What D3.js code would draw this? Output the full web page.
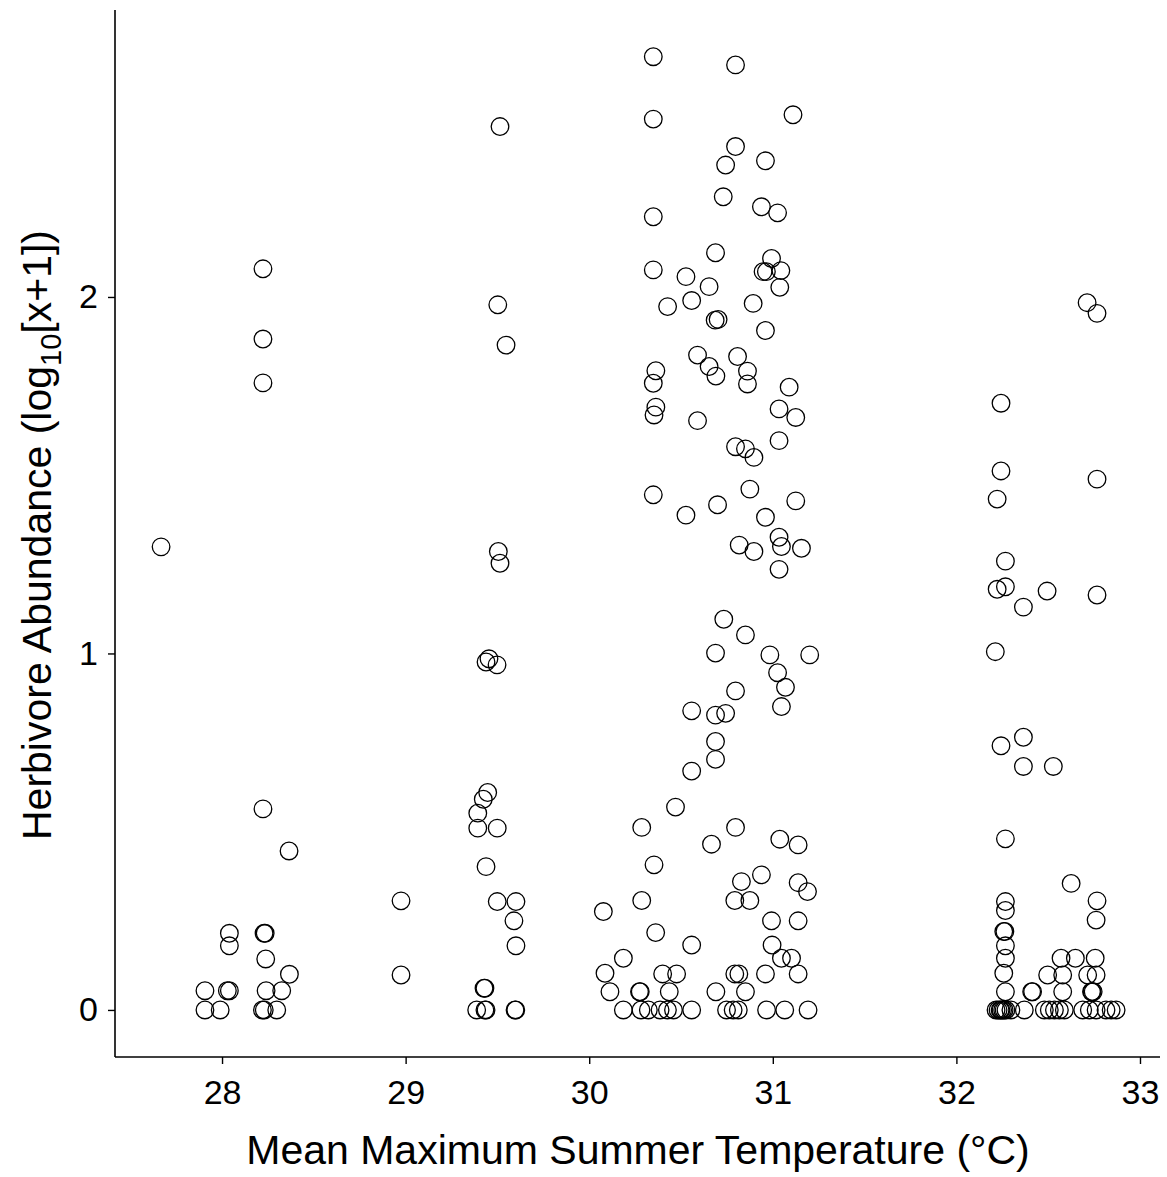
<!DOCTYPE html>
<html>
<head>
<meta charset="utf-8">
<script src="https://cdn.jsdelivr.net/npm/d3@7"></script>
<style>
  body { margin: 0; background: #fff; }
  svg text { font-family: "Liberation Sans", Arial, sans-serif; fill: #000; }
</style>
</head>
<body>
<svg id="chart" width="1167" height="1177"></svg>
<script>
// points as [temperature, log10 abundance], grouped by temperature band
const sites28 = [
  [27.668, 1.299], [28.223, 2.079], [28.223, 1.882], [28.223, 1.759], [28.223, 0.564],
  [28.365, 0.446], [28.04, 0.215], [28.04, 0.18], [28.229, 0.215], [28.235, 0.215],
  [28.238, 0.143], [28.367, 0.1], [27.907, 0.054], [28.029, 0.054], [28.04, 0.054],
  [28.24, 0.054], [28.325, 0.054], [27.907, 0], [27.99, 0], [28.22, 0], [28.23, 0], [28.298, 0]
];
const sites29 = [
  [28.975, 0.306], [28.975, 0.098], [29.514, 2.478], [29.502, 1.978], [29.547, 1.865],
  [29.505, 1.286], [29.514, 1.253], [29.438, 0.976], [29.454, 0.985], [29.498, 0.968],
  [29.447, 0.61], [29.423, 0.591], [29.393, 0.552], [29.393, 0.51], [29.499, 0.51],
  [29.438, 0.402], [29.499, 0.304], [29.601, 0.304], [29.59, 0.25], [29.601, 0.18],
  [29.427, 0.061], [29.432, 0.061], [29.387, 0], [29.432, 0], [29.438, 0], [29.596, 0], [29.6, 0]
];
const sites30 = [
  [30.349, 2.674], [30.797, 2.651], [30.349, 2.499], [31.11, 2.511], [30.797, 2.422],
  [30.743, 2.37], [30.96, 2.382], [30.349, 2.225], [30.73, 2.281], [30.938, 2.253],
  [31.026, 2.236], [30.688, 2.124], [30.349, 2.076], [30.527, 2.057], [30.653, 2.029],
  [30.427, 1.973], [30.558, 1.99], [30.893, 1.982], [30.686, 1.935], [30.702, 1.937],
  [30.96, 1.906], [30.993, 2.108], [30.947, 2.071], [30.965, 2.071], [31.044, 2.074],
  [31.038, 2.027], [30.59, 1.837], [30.653, 1.805], [30.69, 1.778], [30.808, 1.833],
  [30.862, 1.792], [30.862, 1.756], [30.363, 1.793], [30.349, 1.758], [30.363, 1.691],
  [30.353, 1.669], [31.089, 1.747], [31.034, 1.686], [31.125, 1.662], [30.59, 1.653],
  [31.034, 1.597], [30.797, 1.58], [30.851, 1.574], [30.897, 1.55], [30.349, 1.445],
  [30.527, 1.388], [30.699, 1.417], [30.875, 1.461], [30.96, 1.382], [31.125, 1.428],
  [30.817, 1.304], [30.897, 1.286], [31.034, 1.326], [31.047, 1.3], [31.156, 1.295],
  [31.034, 1.236], [30.733, 1.096], [30.851, 1.052], [30.688, 1.001], [30.984, 0.996],
  [31.201, 0.996], [31.026, 0.946], [31.069, 0.905], [31.047, 0.851], [30.797, 0.895],
  [30.558, 0.839], [30.688, 0.827], [30.743, 0.832], [30.688, 0.753], [30.688, 0.703],
  [30.558, 0.67], [30.47, 0.569], [30.286, 0.512], [30.797, 0.512], [30.666, 0.465],
  [31.038, 0.479], [31.138, 0.463], [30.353, 0.407], [30.938, 0.379], [30.829, 0.36],
  [31.138, 0.357], [31.189, 0.332], [30.793, 0.307], [30.875, 0.307], [30.286, 0.307],
  [30.077, 0.276], [30.993, 0.25], [31.138, 0.25], [30.362, 0.217], [30.558, 0.182],
  [30.996, 0.182], [30.186, 0.145], [31.047, 0.145], [31.102, 0.145], [30.086, 0.103],
  [30.4, 0.101], [30.476, 0.101], [30.793, 0.101], [30.815, 0.101], [30.96, 0.101],
  [31.138, 0.101], [30.113, 0.051], [30.274, 0.051], [30.278, 0.051], [30.436, 0.051],
  [30.69, 0.051], [30.851, 0.051], [30.186, 0], [30.282, 0], [30.322, 0], [30.386, 0],
  [30.426, 0], [30.459, 0], [30.558, 0], [30.748, 0], [30.784, 0], [30.812, 0],
  [30.966, 0], [31.065, 0], [31.192, 0]
];
const sites32 = [
  [32.712, 1.984], [32.766, 1.954], [32.243, 1.702], [32.243, 1.512], [32.222, 1.433],
  [32.766, 1.489], [32.267, 1.259], [32.222, 1.18], [32.267, 1.187], [32.494, 1.175],
  [32.365, 1.13], [32.766, 1.164], [32.212, 1.005], [32.243, 0.741], [32.365, 0.765],
  [32.365, 0.683], [32.528, 0.683], [32.267, 0.48], [32.267, 0.304], [32.267, 0.279],
  [32.625, 0.355], [32.766, 0.306], [32.761, 0.252], [32.258, 0.22], [32.264, 0.22],
  [32.267, 0.18], [32.267, 0.145], [32.57, 0.145], [32.648, 0.145], [32.756, 0.145],
  [32.258, 0.103], [32.497, 0.098], [32.579, 0.098], [32.715, 0.098], [32.761, 0.098],
  [32.267, 0.051], [32.41, 0.051], [32.415, 0.051], [32.579, 0.051], [32.736, 0.051],
  [32.739, 0.051], [32.745, 0.051], [32.216, 0], [32.227, 0], [32.238, 0], [32.243, 0],
  [32.252, 0], [32.26, 0], [32.27, 0], [32.297, 0], [32.37, 0], [32.479, 0], [32.506, 0],
  [32.534, 0], [32.561, 0], [32.588, 0], [32.688, 0], [32.724, 0], [32.761, 0],
  [32.815, 0], [32.843, 0], [32.87, 0]
];

const xTicks = [28, 29, 30, 31, 32, 33];
const yTicks = [0, 1, 2];
const xTitle = "Mean Maximum Summer Temperature (°C)";

const svg = d3.select("#chart");
const margin = { top: 10, right: 7, bottom: 120, left: 115 };
const width = 1167 - margin.left - margin.right;
const height = 1177 - margin.top - margin.bottom;

const x = d3.scaleLinear().domain([27.417, 33.109]).range([0, width]);
const y = d3.scaleLinear().domain([-0.132, 2.805]).range([height, 0]);

const g = svg.append("g").attr("transform", `translate(${margin.left},${margin.top})`);

const allPoints = sites28.concat(sites29, sites30, sites32);

g.selectAll("circle.pt")
  .data(allPoints)
  .join("circle")
  .attr("class", "pt")
  .attr("cx", d => x(d[0]))
  .attr("cy", d => y(d[1]))
  .attr("r", 8.8)
  .attr("fill", "none")
  .attr("stroke", "#000")
  .attr("stroke-width", 1.3);

// axes
const xAxis = g.append("g")
  .attr("transform", `translate(0,${height})`)
  .call(d3.axisBottom(x).tickValues(xTicks).tickSize(7).tickPadding(16).tickFormat(d3.format("d")));
const yAxis = g.append("g")
  .call(d3.axisLeft(y).tickValues(yTicks).tickSize(7).tickPadding(10).tickFormat(d3.format("d")));

[xAxis, yAxis].forEach(a => {
  a.select(".domain").attr("stroke", "#000").attr("stroke-width", 1.6).attr("d",
    a === xAxis ? `M0,0H${width}` : `M0,0V${height}`);
  a.selectAll(".tick line").attr("stroke", "#000").attr("stroke-width", 1.4);
  a.selectAll(".tick text").style("font-size", "34px").attr("fill", "#000");
});

// titles
svg.append("text")
  .attr("x", 638)
  .attr("y", 1164)
  .attr("text-anchor", "middle")
  .style("font-size", "41px")
  .text(xTitle);

const yLab = svg.append("text")
  .attr("transform", "translate(51,535) rotate(-90)")
  .attr("text-anchor", "middle")
  .style("font-size", "41px");
yLab.append("tspan").text("Herbivore Abundance (log");
yLab.append("tspan").attr("dy", 10).style("font-size", "29px").text("10");
yLab.append("tspan").attr("dy", -10).text("[x+1])");
</script>
</body>
</html>
